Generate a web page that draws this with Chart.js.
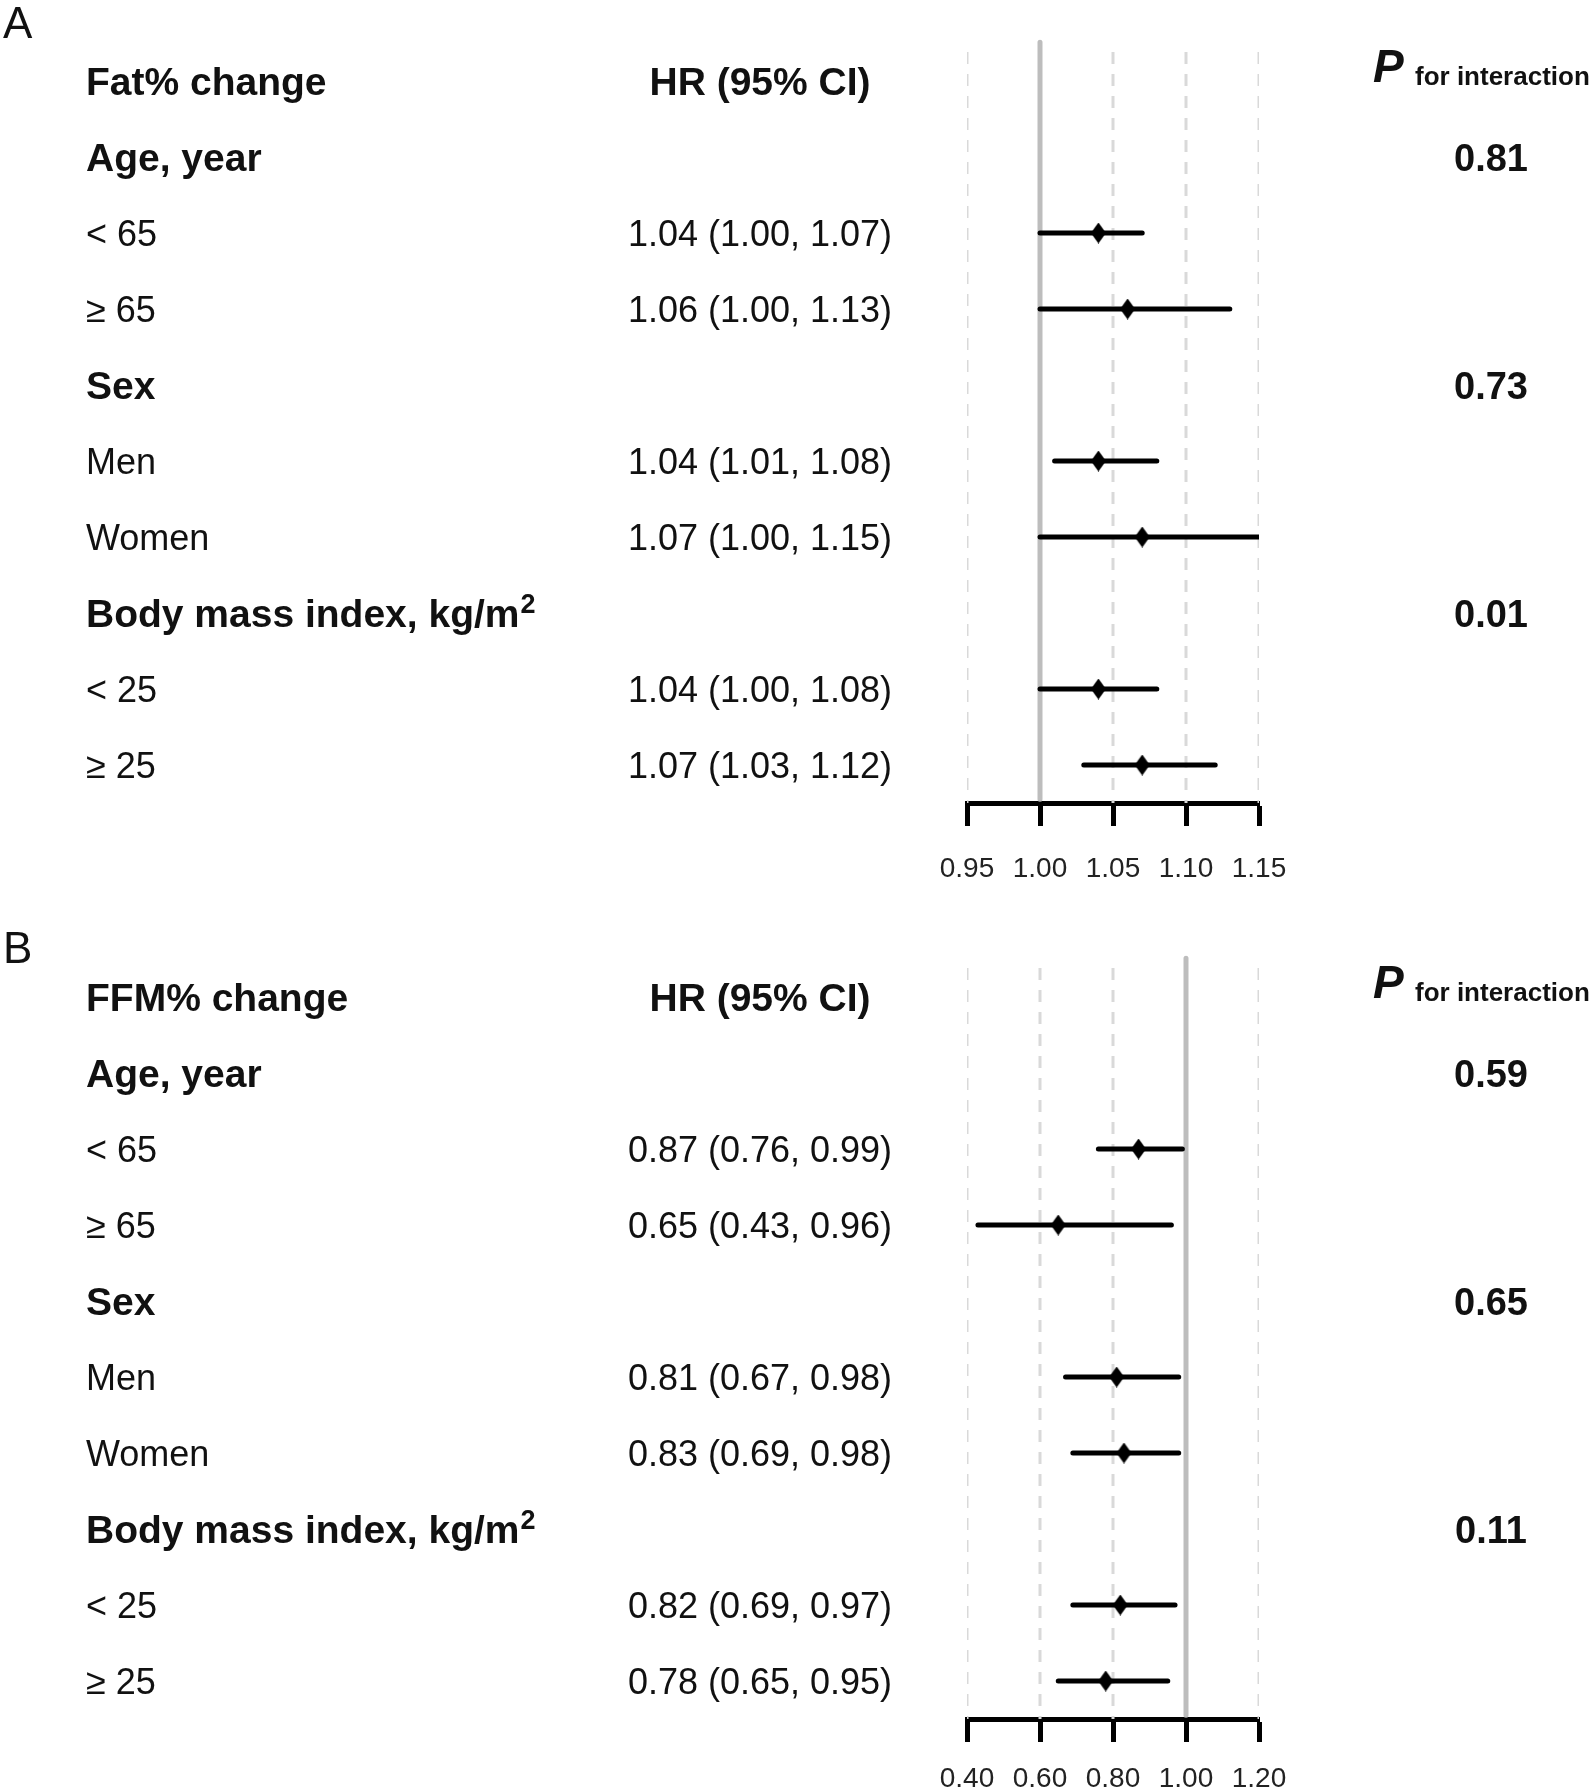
<!DOCTYPE html>
<html>
<head>
<meta charset="utf-8">
<script src="https://cdn.jsdelivr.net/npm/chart.js@4.4.1/dist/chart.umd.min.js"></script>
<style>
    html, body { margin: 0; padding: 0; background: #fff; }
    #wrap { position: relative; width: 1593px; height: 1790px; overflow: hidden; }
    canvas { position: absolute; left: 0; }
</style>
</head>
<body>
<div id="wrap">
    <canvas id="chartA" width="1593" height="916" style="top:0"></canvas>
    <canvas id="chartB" width="1593" height="916" style="top:916px"></canvas>
</div>
<script>
    // rows shared by both panels (row 0 is the column header)
    var rowLabels = ['Age, year', '< 65', '\u2265 65', 'Sex', 'Men', 'Women', 'Body mass index, kg/m', '< 25', '\u2265 25'];
    var rowIsGroup = [true, false, false, true, false, false, true, false, false];

    // A - Fat% change
    var fatHR = [null, 1.04, 1.06, null, 1.04, 1.07, null, 1.04, 1.07];
    var fatLower = [null, 1.00, 1.00, null, 1.01, 1.00, null, 1.00, 1.03];
    var fatUpper = [null, 1.07, 1.13, null, 1.08, 1.15, null, 1.08, 1.12];
    var fatP = ['0.81', '', '', '0.73', '', '', '0.01', '', ''];
    var fatTicks = [0.95, 1.00, 1.05, 1.10, 1.15];

    // B - FFM% change
    var ffmHR = [null, 0.87, 0.65, null, 0.81, 0.83, null, 0.82, 0.78];
    var ffmLower = [null, 0.76, 0.43, null, 0.67, 0.69, null, 0.69, 0.65];
    var ffmUpper = [null, 0.99, 0.96, null, 0.98, 0.98, null, 0.97, 0.95];
    var ffmP = ['0.59', '', '', '0.65', '', '', '0.11', '', ''];
    var ffmTicks = [0.40, 0.60, 0.80, 1.00, 1.20];

    var FONT = "'Liberation Sans', Arial, Helvetica, sans-serif";
    Chart.defaults.font.family = FONT;

    function makeDiamond(w, h) {
        var c = document.createElement('canvas');
        c.width = w;
        c.height = h;
        var g = c.getContext('2d');
        g.beginPath();
        g.moveTo(w / 2, 0);
        g.lineTo(w, h / 2);
        g.lineTo(w / 2, h);
        g.lineTo(0, h / 2);
        g.closePath();
        g.fillStyle = '#000';
        g.fill();
        return c;
    }
    var diamond = makeDiamond(15, 21);

    function buildDatasets(hr, lower, upper, ticks) {
        var ds = [];
        // dashed guide lines
        ticks.forEach(function (t) {
            if (t === 1) return;
            ds.push({
                type: 'line', showLine: true,
                data: [{ x: t, y: -0.38 }, { x: t, y: 9.5 }],
                borderColor: '#d9d9d9', borderWidth: 3, borderDash: [12, 10],
                pointRadius: 0, order: 4
            });
        });
        // null line at HR = 1
        ds.push({
            type: 'line', showLine: true,
            data: [{ x: 1, y: -0.51 }, { x: 1, y: 9.45 }],
            borderColor: '#bdbdbd', borderWidth: 5, borderCapStyle: 'round',
            pointRadius: 0, order: 3
        });
        // confidence intervals
        hr.forEach(function (v, i) {
            if (v === null) return;
            ds.push({
                type: 'line', showLine: true,
                data: [{ x: lower[i], y: i + 1 }, { x: upper[i], y: i + 1 }],
                borderColor: '#000', borderWidth: 5, borderCapStyle: 'round',
                pointRadius: 0, order: 2
            });
        });
        // point estimates
        ds.push({
            type: 'scatter',
            data: hr.map(function (v, i) { return v === null ? null : { x: v, y: i + 1 }; })
                .filter(function (p) { return p !== null; }),
            pointStyle: diamond, pointRadius: 10, order: 1
        });
        return ds;
    }

    function fmt(v) { return v.toFixed(2); }

    var forestText = {
        id: 'forestText',
        afterDraw: function (chart) {
            var cfg = chart.options.plugins.forestText;
            var ctx = chart.ctx;
            var ys = chart.scales.y;
            ctx.save();
            ctx.fillStyle = '#111';

            ctx.textAlign = 'left';
            ctx.font = '44px ' + FONT;
            ctx.fillText(cfg.letter, 3, cfg.letterY);

            var y0 = ys.getPixelForValue(0);
            ctx.font = 'bold 39px ' + FONT;
            ctx.fillText(cfg.title, 86, y0 + 14);
            ctx.textAlign = 'center';
            ctx.fillText('HR (95% CI)', 760, y0 + 14);

            ctx.textAlign = 'left';
            ctx.font = 'italic bold 46px ' + FONT;
            ctx.fillText('P', 1373, y0 + 1);
            ctx.font = 'bold 26px ' + FONT;
            ctx.fillText('for interaction', 1415, y0 + 4);

            rowLabels.forEach(function (label, i) {
                var y = ys.getPixelForValue(i + 1);
                ctx.textAlign = 'left';
                if (rowIsGroup[i]) {
                    ctx.font = 'bold 39px ' + FONT;
                    ctx.fillText(label, 86, y + 14);
                    if (label.slice(-4) === 'kg/m') {
                        var w = ctx.measureText(label).width;
                        ctx.font = 'bold 27px ' + FONT;
                        ctx.fillText('2', 86 + w + 1, y);
                    }
                } else {
                    ctx.font = '36px ' + FONT;
                    ctx.fillText(label, 86, y + 13);
                }
                if (cfg.hr[i] !== null) {
                    ctx.font = '36px ' + FONT;
                    ctx.textAlign = 'center';
                    ctx.fillText(fmt(cfg.hr[i]) + ' (' + fmt(cfg.lower[i]) + ', ' + fmt(cfg.upper[i]) + ')', 760, y + 13);
                }
                if (cfg.p[i]) {
                    ctx.font = 'bold 38px ' + FONT;
                    ctx.textAlign = 'center';
                    ctx.fillText(cfg.p[i], 1491, y + 14);
                }
            });
            ctx.restore();
        }
    };

    function makeForest(canvasId, letter, letterY, title, hr, lower, upper, p, ticks, tickPad) {
        var el = document.getElementById(canvasId);
        return new Chart(el, {
            type: 'scatter',
            data: { datasets: buildDatasets(hr, lower, upper, ticks) },
            options: {
                responsive: false,
                animation: false,
                events: [],
                layout: { padding: { left: 967, right: 334, top: 39.2, bottom: 0 } },
                plugins: {
                    legend: { display: false },
                    tooltip: { enabled: false },
                    forestText: { letter: letter, letterY: letterY, title: title, hr: hr, lower: lower, upper: upper, p: p }
                },
                scales: {
                    x: {
                        type: 'linear',
                        min: ticks[0],
                        max: ticks[ticks.length - 1],
                        afterBuildTicks: function (scale) {
                            scale.ticks = ticks.map(function (v) { return { value: v }; });
                        },
                        afterFit: function (scale) { scale.height = 113; },
                        grid: { drawOnChartArea: false, drawTicks: true, tickLength: 23, tickWidth: 5, tickColor: '#000' },
                        border: { display: true, color: '#000', width: 5 },
                        ticks: {
                            padding: tickPad,
                            color: '#222',
                            autoSkip: false,
                            maxRotation: 0,
                            font: { size: 28 },
                            callback: function (v) { return Number(v).toFixed(2); }
                        }
                    },
                    y: { type: 'linear', reverse: true, min: -0.55, max: 9.5, display: false }
                }
            },
            plugins: [forestText]
        });
    }

    makeForest('chartA', 'A', 38, 'Fat% change', fatHR, fatLower, fatUpper, fatP, fatTicks, 26);
    makeForest('chartB', 'B', 47, 'FFM% change', ffmHR, ffmLower, ffmUpper, ffmP, ffmTicks, 20);
</script>
</body>
</html>
